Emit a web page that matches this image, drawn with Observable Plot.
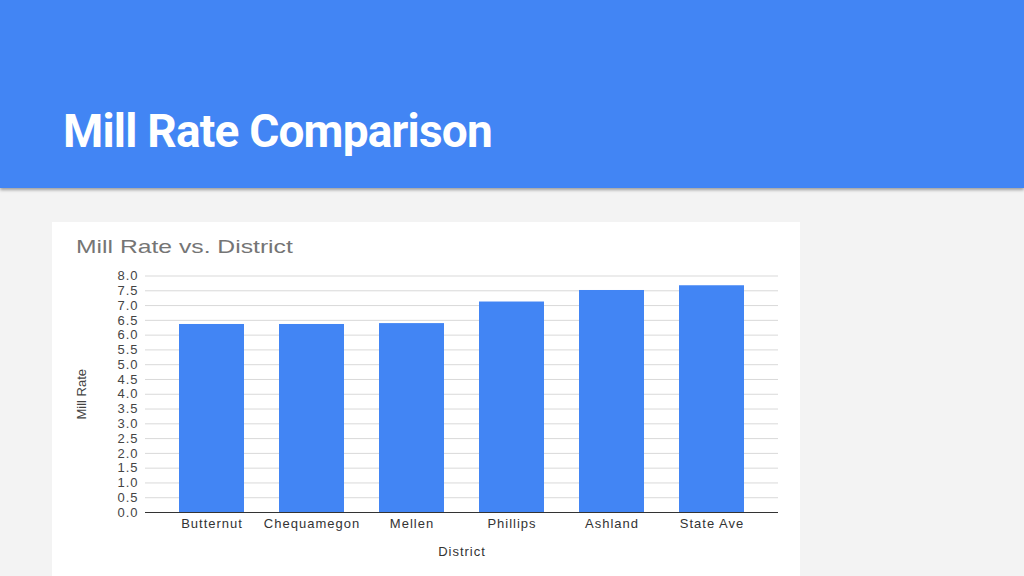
<!DOCTYPE html>
<html>
<head>
<meta charset="utf-8">
<script src="https://cdn.jsdelivr.net/npm/d3@7"></script>
<script src="https://cdn.jsdelivr.net/npm/@observablehq/plot@0.6"></script>
<style>
  html, body { margin: 0; padding: 0; }
  body { width: 1024px; height: 576px; background: #f3f3f3; position: relative; overflow: hidden; font-family: "Liberation Sans", Arial, sans-serif; }
  #header { position: absolute; left: 0; top: 0; width: 1024px; height: 188px; background: #4285f4; box-shadow: 0 2px 3px rgba(0,0,0,0.35); }
  #header h1 { position: absolute; left: 63px; top: 105px; margin: 0; font-family: Roboto, sans-serif; font-weight: 700; font-size: 46px; line-height: 52px; color: #fff; letter-spacing: -0.8px; white-space: nowrap; }
  #card { position: absolute; left: 52px; top: 222px; width: 748px; height: 354px; background: #fff; }
  #ctitle { position: absolute; left: 24px; top: 14px; font-family: "Liberation Sans", Arial, sans-serif; font-size: 19px; color: #757575; white-space: nowrap; transform: scaleX(1.3); transform-origin: left center; }
  #chart { position: absolute; left: 0; top: 40px; }
  #chart svg g[aria-label="y-axis label"] text { letter-spacing: 0; }
</style>
</head>
<body>
<div id="header"><h1>Mill Rate Comparison</h1></div>
<div id="card">
  <div id="ctitle">Mill Rate vs. District</div>
  <div id="chart"></div>
</div>
<script>
const districts = ["Butternut", "Chequamegon", "Mellen", "Phillips", "Ashland", "State Ave"];
const millRates = [6.36, 6.36, 6.39, 7.12, 7.51, 7.67];
const yTicks = [0, 0.5, 1, 1.5, 2, 2.5, 3, 3.5, 4, 4.5, 5, 5.5, 6, 6.5, 7, 7.5, 8];

const data = districts.map((d, i) => ({district: d, rate: millRates[i]}));

const W = 748, H = 314;
const chart = Plot.plot({
  width: W,
  height: H,
  marginLeft: 93,
  marginRight: 22,
  marginTop: 13.5,
  marginBottom: 64,
  style: {fontFamily: "'Liberation Sans', Arial, sans-serif", fontSize: "13px", color: "#444", background: "transparent", letterSpacing: "1px"},
  x: {domain: districts, paddingInner: 0.35, paddingOuter: 0.33, label: null},
  y: {domain: [0, 8], label: null},
  marks: [
    Plot.ruleY(yTicks.slice(1), {stroke: "#d9d9d9", strokeWidth: 1}),
    Plot.barY(data, {x: "district", y: "rate", fill: "#4285f4"}),
    Plot.ruleY([0], {stroke: "#333", strokeWidth: 1}),
    Plot.axisY({ticks: yTicks, tickFormat: d3.format(".1f"), tickSize: 0, tickPadding: 7, fill: "#444", fontSize: 13,
      label: "Mill Rate", labelAnchor: "center", labelArrow: false, labelOffset: 69}),
    Plot.axisX({tickSize: 0, tickPadding: 6, fill: "#333", fontSize: 13,
      label: "District", labelAnchor: "center", labelArrow: false, labelOffset: 43})
  ]
});
document.getElementById("chart").appendChild(chart);
</script>
</body>
</html>
